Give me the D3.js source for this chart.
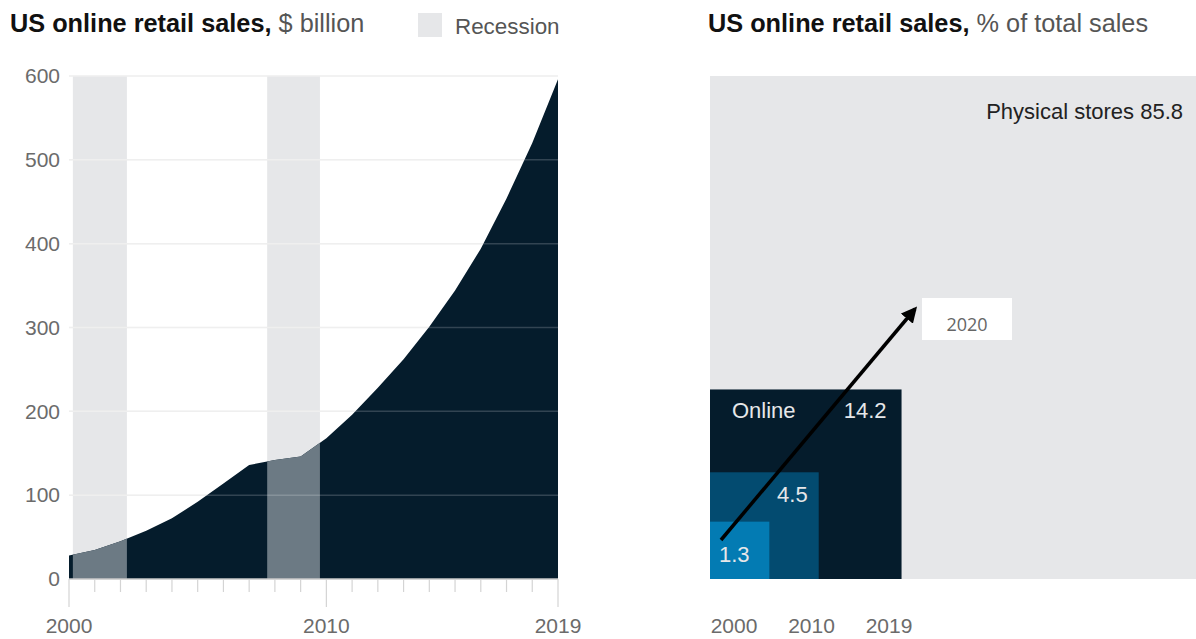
<!DOCTYPE html>
<html>
<head>
<meta charset="utf-8">
<script src="https://cdn.jsdelivr.net/npm/d3@7"></script>
<style>
  html, body { margin: 0; padding: 0; background: #fff; }
  svg { display: block; font-family: "Liberation Sans", Arial, sans-serif; }
</style>
</head>
<body>
<svg id="chart" width="1196" height="639"></svg>
<script>
// US online retail sales, $ billion, by year
const years = [2000, 2001, 2002, 2003, 2004, 2005, 2006, 2007, 2008, 2009,
               2010, 2011, 2012, 2013, 2014, 2015, 2016, 2017, 2018, 2019];
const salesBillion = [28, 34.5, 45, 57.5, 72.5, 92, 114, 136, 142, 146,
                      168, 196, 228, 262, 301, 344, 394, 454, 520, 596];
// Recession periods (fractional years)
const recessions = [[2000.15, 2002.25], [2007.7, 2009.75]];
const yTicks = [0, 100, 200, 300, 400, 500, 600];
const xLabelYears = [2000, 2010, 2019];

// Online share of total sales, %
const shareYears = [2019, 2010, 2000];
const shareValues = [14.2, 4.5, 1.3];
const physicalShare = 85.8;
const shareColors = ["#051c2c", "#034b70", "#037bb3"];

const svg = d3.select("#chart");
const navy = "#051c2c";
const bandGray = "#e6e7e9";
const tickText = "#6b6b6b";

// ---------- Left chart: area of sales ----------
const x = d3.scaleLinear().domain([2000, 2019]).range([69, 558]);
const y = d3.scaleLinear().domain([0, 600]).range([579, 76]);

const left = svg.append("g");

// titles
const t1 = left.append("text").attr("x", 10).attr("y", 32).attr("font-size", 25.3);
t1.append("tspan").attr("font-weight", "bold").attr("fill", "#111").text("US online retail sales,");
t1.append("tspan").attr("fill", "#555").text(" $ billion");

left.append("rect").attr("x", 418).attr("y", 13).attr("width", 24).attr("height", 24).attr("fill", bandGray);
left.append("text").attr("x", 455).attr("y", 34).attr("font-size", 22.4).attr("fill", "#555").text("Recession");

// recession bands behind the area
left.selectAll("rect.band").data(recessions).join("rect")
  .attr("class", "band")
  .attr("x", d => x(d[0])).attr("width", d => x(d[1]) - x(d[0]))
  .attr("y", y(600)).attr("height", y(0) - y(600))
  .attr("fill", bandGray);

// gridlines
left.selectAll("line.grid").data(yTicks.filter(v => v > 0)).join("line")
  .attr("class", "grid")
  .attr("x1", x(2000)).attr("x2", x(2019))
  .attr("y1", d => y(d)).attr("y2", d => y(d))
  .attr("stroke", "#ececec").attr("stroke-width", 1.5);

// area
const data = years.map((yr, i) => ({ yr, v: salesBillion[i] }));
const area = d3.area().x(d => x(d.yr)).y0(y(0)).y1(d => y(d.v)).curve(d3.curveLinear);
left.append("path").datum(data).attr("d", area).attr("fill", navy);

// recession overlay on top of the area
left.append("clipPath").attr("id", "areaClip")
  .append("path").datum(data).attr("d", area);
left.selectAll("rect.overlay").data(recessions).join("rect")
  .attr("class", "overlay")
  .attr("clip-path", "url(#areaClip)")
  .attr("x", d => x(d[0])).attr("width", d => x(d[1]) - x(d[0]))
  .attr("y", y(600)).attr("height", y(0) - y(600))
  .attr("fill", "#6c7a84");

// faint gridlines over the area
left.selectAll("line.gridTop").data(yTicks.filter(v => v > 0)).join("line")
  .attr("class", "gridTop")
  .attr("x1", x(2000)).attr("x2", x(2019))
  .attr("y1", d => y(d)).attr("y2", d => y(d))
  .attr("stroke", "#ffffff").attr("stroke-opacity", 0.18).attr("stroke-width", 1.5);

// y axis labels
const yAxis = d3.axisLeft(y).tickValues(yTicks).tickSize(0).tickPadding(9);
left.append("g").attr("transform", `translate(${x(2000)},0)`).call(yAxis)
  .call(g => g.select(".domain").remove())
  .call(g => g.selectAll("text").attr("font-size", 21).attr("fill", tickText)
    .attr("font-family", "Liberation Sans, Arial, sans-serif"));

// baseline
left.append("line").attr("x1", x(2000)).attr("x2", x(2019))
  .attr("y1", y(0)).attr("y2", y(0)).attr("stroke", "#c8c8c8").attr("stroke-width", 1.5);

// year ticks
left.selectAll("line.tick").data(years).join("line")
  .attr("class", "tick")
  .attr("x1", d => x(d)).attr("x2", d => x(d))
  .attr("y1", y(0)).attr("y2", d => y(0) + (xLabelYears.includes(d) ? 28 : 13))
  .attr("stroke", "#d4d4d4").attr("stroke-width", 1.2);

left.selectAll("text.xl").data(xLabelYears).join("text")
  .attr("class", "xl")
  .attr("x", d => x(d)).attr("y", 633)
  .attr("text-anchor", "middle").attr("font-size", 21).attr("fill", tickText)
  .text(d => d);

// ---------- Right chart: nested squares of share ----------
const side = d3.scaleSqrt().domain([0, 100]).range([0, 503]);
const rx0 = 710, ry0 = 579;
const right = svg.append("g");

const t2 = right.append("text").attr("x", 708).attr("y", 32).attr("font-size", 25.3);
t2.append("tspan").attr("font-weight", "bold").attr("fill", "#111").text("US online retail sales,");
t2.append("tspan").attr("fill", "#555").text(" % of total sales");

right.append("rect")
  .attr("x", rx0).attr("y", ry0 - side(100))
  .attr("width", side(100) + 20).attr("height", side(100))
  .attr("fill", bandGray);

right.append("text").attr("x", 1183).attr("y", 119)
  .attr("text-anchor", "end").attr("font-size", 22).attr("fill", "#222")
  .text(`Physical stores ${physicalShare}`);

right.selectAll("rect.sq").data(shareValues).join("rect")
  .attr("class", "sq")
  .attr("x", rx0).attr("y", d => ry0 - side(d))
  .attr("width", d => side(d) + 2).attr("height", d => side(d))
  .attr("fill", (d, i) => shareColors[i]);

// value labels in squares
right.append("text").attr("x", rx0 + 22).attr("y", ry0 - side(14.2) + 29)
  .attr("font-size", 22).attr("fill", "#e6e7e9").text("Online");
right.append("text").attr("x", rx0 + side(14.2) - 13).attr("y", ry0 - side(14.2) + 29)
  .attr("text-anchor", "end").attr("font-size", 22).attr("fill", "#e6e7e9").text("14.2");
right.append("text").attr("x", rx0 + side(4.5) - 9).attr("y", ry0 - side(4.5) + 30)
  .attr("text-anchor", "end").attr("font-size", 22).attr("fill", "#e6e7e9").text("4.5");
right.append("text").attr("x", rx0 + 9).attr("y", ry0 - 17)
  .attr("font-size", 22).attr("fill", "#e6e7e9").text("1.3");

// year labels
const yrScale = d3.scalePoint().domain([2000, 2010, 2019]).range([734, 889]);
right.selectAll("text.yr").data([2000, 2010, 2019]).join("text")
  .attr("class", "yr")
  .attr("x", d => yrScale(d)).attr("y", 633)
  .attr("text-anchor", "middle").attr("font-size", 21).attr("fill", tickText)
  .text(d => d);

// arrow pointing to 2020
svg.append("defs").append("marker")
  .attr("id", "arrowHead").attr("viewBox", "0 0 10 10")
  .attr("refX", 8).attr("refY", 5)
  .attr("markerWidth", 4.5).attr("markerHeight", 4.5)
  .attr("orient", "auto")
  .append("path").attr("d", "M0,0 L10,5 L0,10 Z").attr("fill", "#000");

right.append("line")
  .attr("x1", 721).attr("y1", 540).attr("x2", 915).attr("y2", 309)
  .attr("stroke", "#000").attr("stroke-width", 3.5)
  .attr("marker-end", "url(#arrowHead)");

right.append("rect").attr("x", 922).attr("y", 298).attr("width", 90).attr("height", 42).attr("fill", "#fff");
right.append("text").attr("x", 967).attr("y", 331)
  .attr("text-anchor", "middle").attr("font-size", 18).attr("fill", "#666")
  .attr("font-family", "Open Sans, Liberation Sans, sans-serif")
  .text("2020");
</script>
</body>
</html>
